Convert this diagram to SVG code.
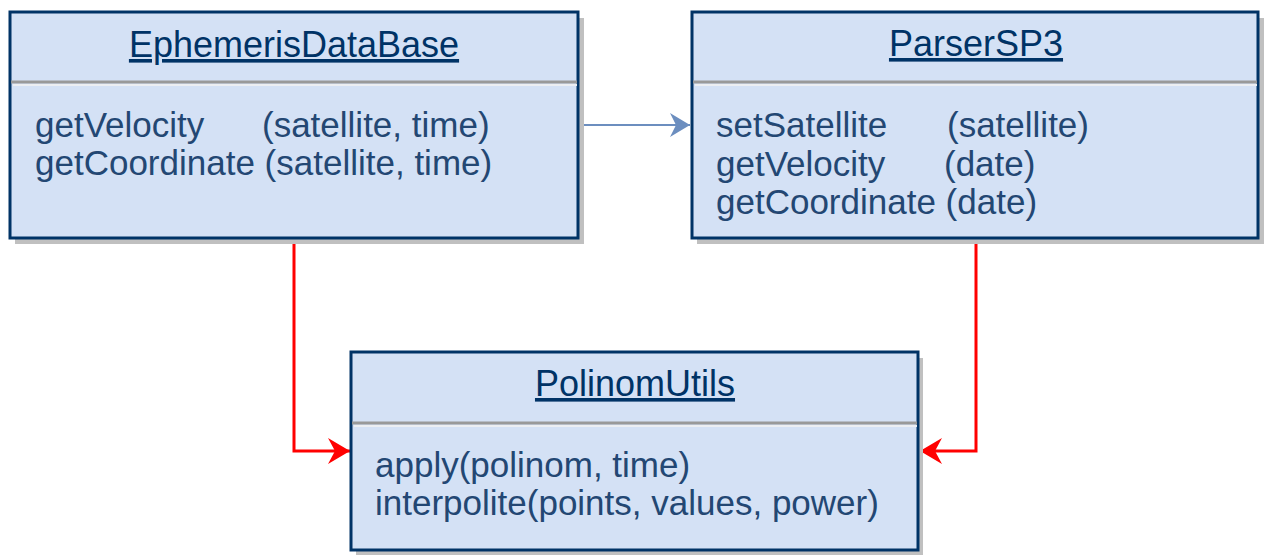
<svg xmlns="http://www.w3.org/2000/svg" width="1270" height="555" viewBox="0 0 1270 555">
<style>
.shadow{fill:#c0c0c0}
.box{fill:#d4e1f5;stroke:#003366;stroke-width:3}
.div{stroke:#999999;stroke-width:3}
.div2{stroke:#eceef2;stroke-width:2}
.title{font-family:"Liberation Sans",Arial,sans-serif;font-size:36px;fill:#003366;text-anchor:middle;text-decoration:underline}
.m{font-family:"Liberation Sans",Arial,sans-serif;font-size:35px;fill:#234773}
</style>
<defs>
<marker id="ab" viewBox="0 0 20 24" refX="20" refY="12" markerWidth="20" markerHeight="24" markerUnits="userSpaceOnUse" orient="auto">
<path d="M0,0 L20,12 L0,24 L6,12 Z" fill="#6c8ebf"/>
</marker>
<marker id="ar" viewBox="0 0 22 26" refX="22" refY="13" markerWidth="22" markerHeight="26" markerUnits="userSpaceOnUse" orient="auto">
<path d="M0,0 L22,13 L0,26 L7,13 Z" fill="#ff0000"/>
</marker>
</defs>
<g id="connectors" fill="none">
<path d="M578,125 L690,125" stroke="#6c8ebf" stroke-width="2" marker-end="url(#ab)"/>
<path d="M294,238 L294,451 L350,451" stroke="#ff0000" stroke-width="3" marker-end="url(#ar)"/>
<path d="M976,238 L976,451 L920,451" stroke="#ff0000" stroke-width="3" marker-end="url(#ar)"/>
</g>
<g id="EphemerisDataBase">
<rect class="shadow" x="15" y="18" width="569" height="226"/>
<rect class="box" x="10" y="12" width="568" height="226"/>
<line class="div" x1="11" y1="82" x2="577" y2="82"/>
<line class="div2" x1="13" y1="85" x2="577" y2="85"/>
<text class="title" x="294" y="57">EphemerisDataBase</text>
<text class="m" x="35" y="137">getVelocity</text>
<text class="m" x="262" y="137">(satellite, time)</text>
<text class="m" x="35" y="175">getCoordinate (satellite, time)</text>
</g>
<g id="ParserSP3">
<rect class="shadow" x="697" y="18" width="567" height="226"/>
<rect class="box" x="692" y="12" width="566" height="226"/>
<line class="div" x1="693" y1="82" x2="1257" y2="82"/>
<line class="div2" x1="695" y1="85" x2="1257" y2="85"/>
<text class="title" x="976" y="56">ParserSP3</text>
<text class="m" x="716" y="137">setSatellite</text>
<text class="m" x="947" y="137">(satellite)</text>
<text class="m" x="716" y="176">getVelocity</text>
<text class="m" x="944" y="176">(date)</text>
<text class="m" x="716" y="214">getCoordinate (date)</text>
</g>
<g id="PolinomUtils">
<rect class="shadow" x="356" y="358" width="567" height="197"/>
<rect class="box" x="351" y="352" width="567" height="198"/>
<line class="div" x1="352" y1="423" x2="917" y2="423"/>
<line class="div2" x1="354" y1="426" x2="917" y2="426"/>
<text class="title" x="635" y="396">PolinomUtils</text>
<text class="m" x="375" y="477">apply(polinom, time)</text>
<text class="m" x="375" y="515">interpolite(points, values, power)</text>
</g>
</svg>
